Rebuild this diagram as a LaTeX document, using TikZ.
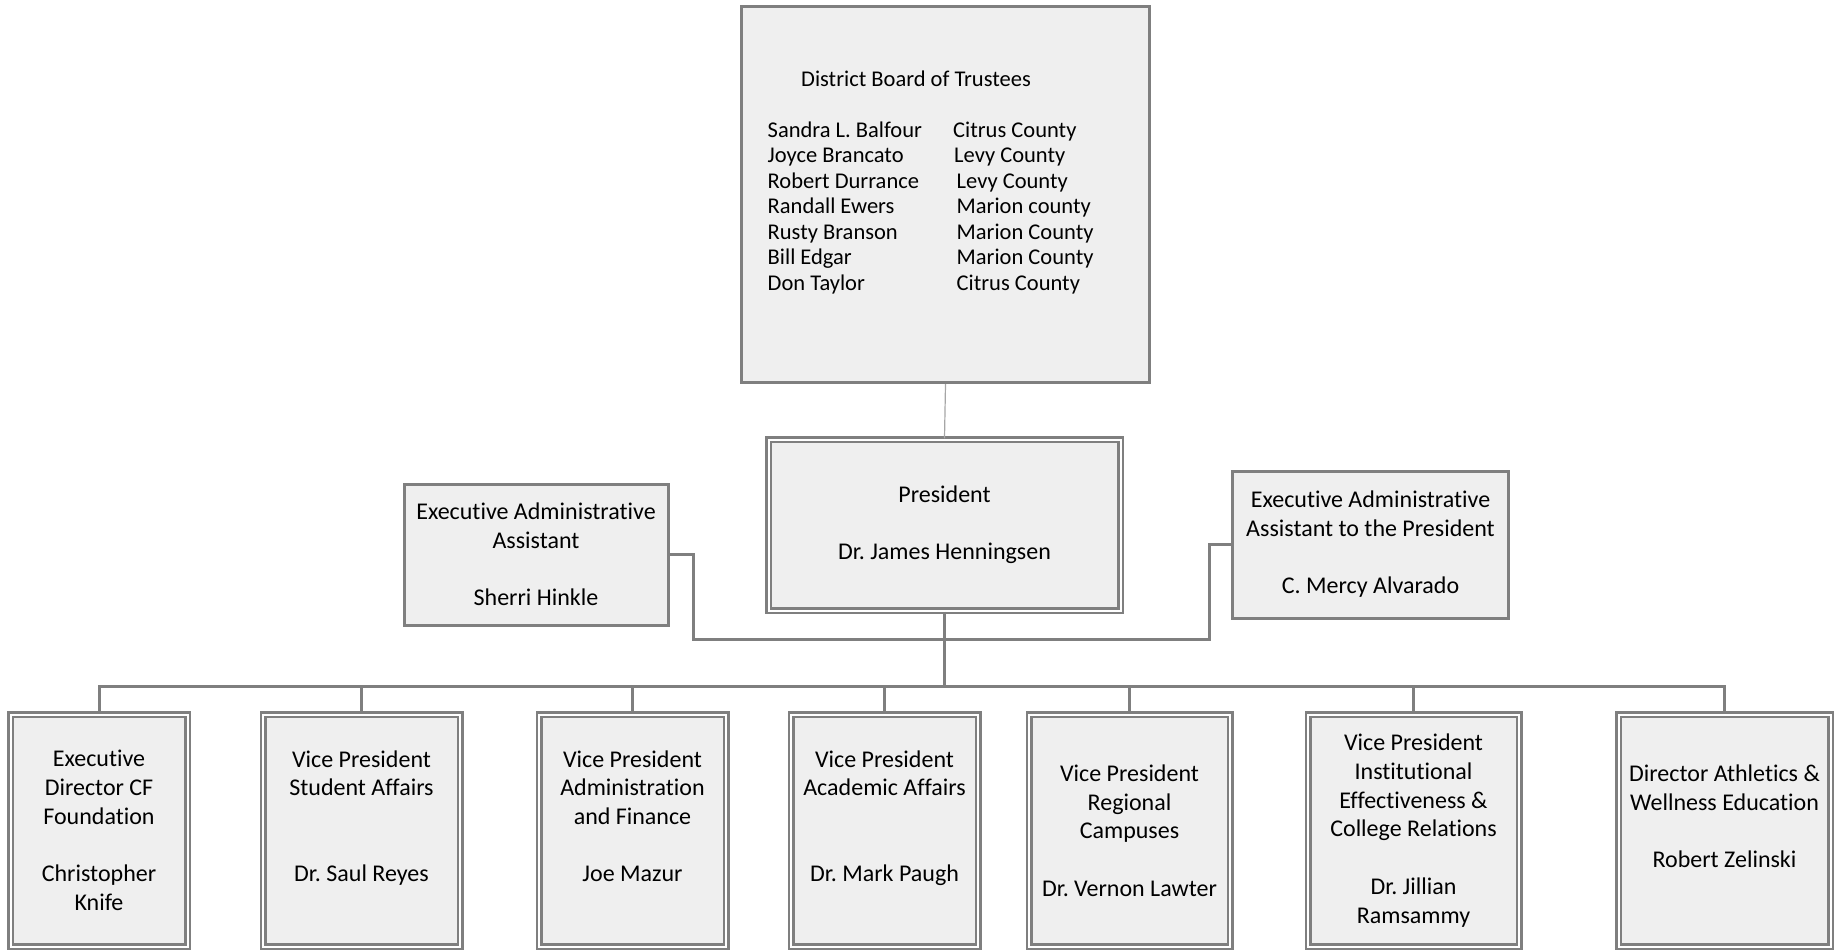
\documentclass[tikz,border=0pt]{standalone}
\usepackage{fontspec}
\setmainfont{Carlito}[Ligatures=NoCommon]
\frenchspacing
\definecolor{bordergray}{HTML}{7F7F7F}
\definecolor{boxfill}{HTML}{EFEFEF}
\definecolor{thinline}{HTML}{A6A6A6}
\newcommand\myboxfont{\fontsize{24}{28.7}\selectfont\frenchspacing}
\newcommand\myboardfont{\fontsize{22.5}{25.5}\selectfont\frenchspacing}
\tikzset{
  sbox/.style={draw=bordergray, fill=boxfill, line width=3pt, inner sep=0pt,
               align=center, font=\myboxfont},
  dbox/.style={draw=bordergray, fill=boxfill, line width=2.5pt, double=white,
               double distance=2pt, inner sep=0pt, align=center, font=\myboxfont},
  conn/.style={draw=bordergray, line width=3pt},
  thinconn/.style={draw=thinline, line width=1.2pt},
  btext/.style={anchor=base west, inner sep=0pt, font=\myboardfont}
}
\begin{document}
\begin{tikzpicture}[x=1pt, y=-1pt]
\useasboundingbox (0,0) rectangle (1842,951);

% board
\node[sbox, minimum width=408pt, minimum height=376pt] (board) at (945.5,194.5) {};
\node[btext] (bt) at (801,86) {District Board of Trustees};
\foreach \nm/\co/\cx/\yy [count=\i] in {
  Sandra L. Balfour/Citrus County/953/137,
  Joyce Brancato/Levy County/954/162.5,
  Robert Durrance/Levy County/956.5/188,
  Randall Ewers/Marion county/956.5/213.5,
  Rusty Branson/Marion County/956.5/239,
  Bill Edgar/Marion County/956.5/264.5,
  Don Taylor/Citrus County/956.5/290}{
  \node[btext] (nm\i) at (767.5,\yy) {\nm};
  \node[btext] (co\i) at (\cx,\yy) {\co};
}

% president
\node[dbox, minimum width=352pt, minimum height=171pt] (pres) at (944.5,525)
  {President\\\mbox{}\\Dr. James Henningsen};

% assistants
\node[sbox, minimum width=264pt, minimum height=141pt] (la) at (536,554.5)
  {Executive Administrative\\Assistant\\\mbox{}\\Sherri Hinkle};
\node[sbox, minimum width=276pt, minimum height=147pt] (ra) at (1370.5,544.5)
  {Executive Administrative\\Assistant to the President\\\mbox{}\\C. Mercy Alvarado};

% bottom row
\node[dbox, minimum width=177pt, minimum height=232pt] (b1) at (99,830.5)
  {Executive\\Director CF\\Foundation\\\mbox{}\\Christopher\\Knife};
\node[dbox, minimum width=197pt, minimum height=232pt] (b2) at (361.5,830.5)
  {Vice President\\Student Affairs\\\mbox{}\\\mbox{}\\Dr. Saul Reyes\\\mbox{}};
\node[dbox, minimum width=187pt, minimum height=232pt] (b3) at (632.5,830.5)
  {Vice President\\Administration\\and Finance\\\mbox{}\\Joe Mazur\\\mbox{}};
\node[dbox, minimum width=187pt, minimum height=232pt] (b4) at (884.5,830.5)
  {Vice President\\Academic Affairs\\\mbox{}\\\mbox{}\\Dr. Mark Paugh\\\mbox{}};
\node[dbox, minimum width=201pt, minimum height=232pt] (b5) at (1129.5,830.5)
  {Vice President\\Regional\\Campuses\\\mbox{}\\Dr. Vernon Lawter};
\node[dbox, minimum width=211pt, minimum height=232pt] (b6) at (1413.5,830.5)
  {Vice President\\Institutional\\Effectiveness \&\\College Relations\\\mbox{}\\Dr. Jillian\\Ramsammy};
\node[dbox, minimum width=212pt, minimum height=232pt] (b7) at (1724.5,830.5)
  {Director Athletics \&\\Wellness Education\\\mbox{}\\Robert Zelinski\\\mbox{}};

% connectors
\draw[thinconn] (board.south) -- (pres.north);
\coordinate (lk) at (693,639);
\coordinate (rk) at (1209,639);
\draw[conn] (la.east) -| (lk) -- (rk) |- (ra.west);
\coordinate (bus) at (944.5,686);
\draw[conn] (pres.south) -- (bus);
\draw[conn] (b1.north) -- (b1.north |- bus) -- (b7.north |- bus) -- (b7.north);
\foreach \b in {b2,b3,b4,b5,b6}{
  \draw[conn] (\b.north) -- (\b.north |- bus);
}
\end{tikzpicture}
\end{document}
